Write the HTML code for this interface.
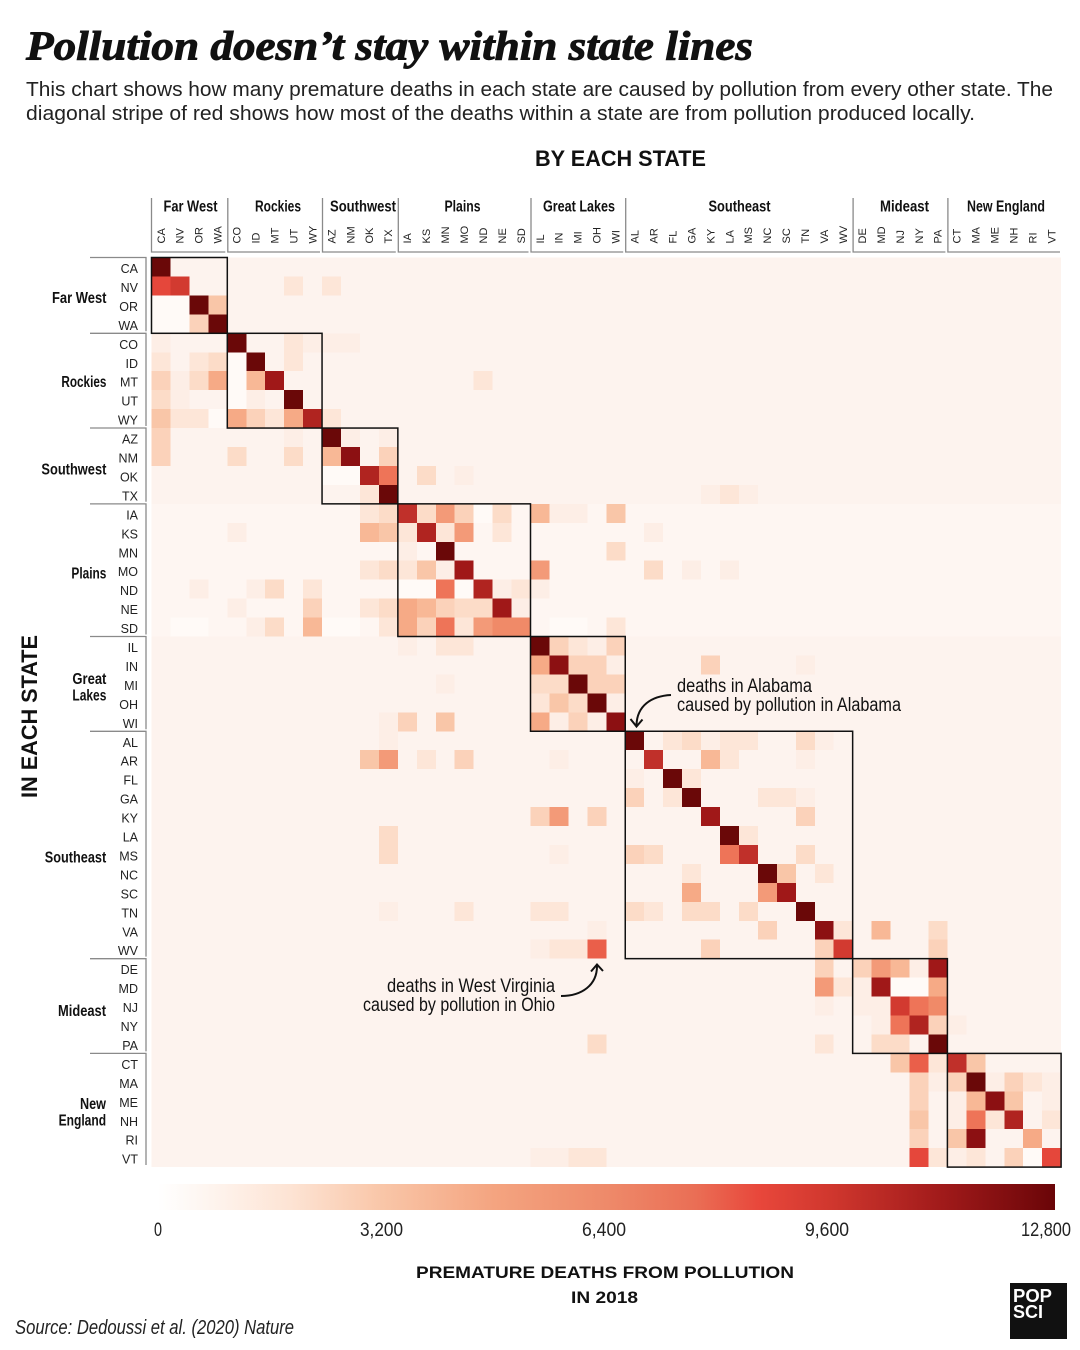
<!DOCTYPE html>
<html><head><meta charset="utf-8">
<style>
html,body{margin:0;padding:0;background:#fff}
svg{display:block}
.a1{fill:#fdeee6}.a2{fill:#fde6d8}.a3{fill:#fcdcc8}.a4{fill:#fbd2ba}.a5{fill:#f9c6a8}.a6{fill:#f8b896}
.a7{fill:#f6aa86}.a8{fill:#f39a78}.a9{fill:#f08a68}.a10{fill:#ee7458}.a11{fill:#ea5f4a}.a12{fill:#e5473b}
.a13{fill:#d23a30}.a14{fill:#c0302a}.a15{fill:#b02420}.a16{fill:#a01818}.a17{fill:#8c1012}.a18{fill:#6a0808}.w{fill:#fffaf7}
.rl{font-family:"Liberation Sans",sans-serif;font-size:12.5px;fill:#222;text-anchor:end}
.cl{font-family:"Liberation Sans",sans-serif;font-size:11px;fill:#222}
.rg{font-family:"Liberation Sans Narrow","Liberation Sans",sans-serif;font-size:16px;font-weight:bold;fill:#111}
.an{font-family:"Liberation Sans Narrow","Liberation Sans",sans-serif;font-size:19px;fill:#111}
.br{stroke:#8a8a8a;stroke-width:1.3;fill:none}
.bx{stroke:#111;stroke-width:1.5;fill:none}
</style></head><body>
<svg width="1080" height="1350" viewBox="0 0 1080 1350" xmlns="http://www.w3.org/2000/svg">
<defs>
<linearGradient id="cb" x1="0" y1="0" x2="1" y2="0">
<stop offset="0" stop-color="#ffffff"/>
<stop offset="0.05" stop-color="#fef6f1"/>
<stop offset="0.15" stop-color="#fde3d3"/>
<stop offset="0.25" stop-color="#f9c6a8"/>
<stop offset="0.375" stop-color="#f4a480"/>
<stop offset="0.5" stop-color="#ee8a6a"/>
<stop offset="0.6" stop-color="#ea6e55"/>
<stop offset="0.67" stop-color="#e8473b"/>
<stop offset="0.75" stop-color="#d0372e"/>
<stop offset="0.875" stop-color="#a01a1a"/>
<stop offset="1" stop-color="#6a0508"/>
</linearGradient>
</defs>

<!-- Title -->
<text x="26" y="59.5" font-family="Liberation Serif, serif" font-style="italic" font-weight="bold" font-size="41" textLength="727" lengthAdjust="spacingAndGlyphs" fill="#111" stroke="#111" stroke-width="0.9">Pollution doesn’t stay within state lines</text>
<text x="26" y="96" font-family="Liberation Sans, sans-serif" font-size="20" fill="#222" textLength="1027" lengthAdjust="spacingAndGlyphs">This chart shows how many premature deaths in each state are caused by pollution from every other state. The</text>
<text x="26" y="120" font-family="Liberation Sans, sans-serif" font-size="20" fill="#222" textLength="949" lengthAdjust="spacingAndGlyphs">diagonal stripe of red shows how most of the deaths within a state are from pollution produced locally.</text>

<text x="535" y="166" font-family="Liberation Sans, sans-serif" font-weight="bold" font-size="22" fill="#111" textLength="171" lengthAdjust="spacingAndGlyphs">BY EACH STATE</text>
<text transform="translate(37,798) rotate(-90)" font-family="Liberation Sans, sans-serif" font-weight="bold" font-size="22" fill="#111" textLength="163" lengthAdjust="spacingAndGlyphs">IN EACH STATE</text>

<!-- Heatmap cells -->
<g transform="translate(151.5 257.5) scale(18.95 18.95)" shape-rendering="crispEdges">
<rect x="0" y="0" width="48" height="48" fill="#fdf3ee"/>
<rect x="0" y="13" width="48" height="7" fill="#fef6f2"/>
<rect x="0" y="0" width="1" height="1" class="a18"/>
<rect x="0" y="1" width="1" height="1" class="a12"/><rect x="1" y="1" width="1" height="1" class="a13"/><rect x="7" y="1" width="1" height="1" class="a2"/><rect x="9" y="1" width="1" height="1" class="a2"/>
<rect x="0" y="2" width="1" height="1" class="w"/><rect x="1" y="2" width="1" height="1" class="w"/><rect x="2" y="2" width="1" height="1" class="a18"/><rect x="3" y="2" width="1" height="1" class="a5"/>
<rect x="0" y="3" width="1" height="1" class="w"/><rect x="1" y="3" width="1" height="1" class="w"/><rect x="2" y="3" width="1" height="1" class="a4"/><rect x="3" y="3" width="1" height="1" class="a18"/>
<rect x="0" y="4" width="1" height="1" class="a1"/><rect x="4" y="4" width="1" height="1" class="a18"/><rect x="7" y="4" width="1" height="1" class="a2"/><rect x="8" y="4" width="1" height="1" class="a1"/><rect x="9" y="4" width="1" height="1" class="a1"/><rect x="10" y="4" width="1" height="1" class="a1"/>
<rect x="0" y="5" width="1" height="1" class="a2"/><rect x="2" y="5" width="1" height="1" class="a2"/><rect x="3" y="5" width="1" height="1" class="a3"/><rect x="4" y="5" width="1" height="1" class="w"/><rect x="5" y="5" width="1" height="1" class="a18"/><rect x="7" y="5" width="1" height="1" class="a2"/>
<rect x="0" y="6" width="1" height="1" class="a4"/><rect x="1" y="6" width="1" height="1" class="a1"/><rect x="2" y="6" width="1" height="1" class="a3"/><rect x="3" y="6" width="1" height="1" class="a7"/><rect x="4" y="6" width="1" height="1" class="w"/><rect x="5" y="6" width="1" height="1" class="a6"/><rect x="6" y="6" width="1" height="1" class="a16"/><rect x="17" y="6" width="1" height="1" class="a2"/>
<rect x="0" y="7" width="1" height="1" class="a3"/><rect x="1" y="7" width="1" height="1" class="a1"/><rect x="4" y="7" width="1" height="1" class="w"/><rect x="5" y="7" width="1" height="1" class="a1"/><rect x="7" y="7" width="1" height="1" class="a18"/>
<rect x="0" y="8" width="1" height="1" class="a5"/><rect x="1" y="8" width="1" height="1" class="a2"/><rect x="2" y="8" width="1" height="1" class="a2"/><rect x="3" y="8" width="1" height="1" class="w"/><rect x="4" y="8" width="1" height="1" class="a7"/><rect x="5" y="8" width="1" height="1" class="a4"/><rect x="6" y="8" width="1" height="1" class="a2"/><rect x="7" y="8" width="1" height="1" class="a7"/><rect x="8" y="8" width="1" height="1" class="a15"/><rect x="9" y="8" width="1" height="1" class="a2"/>
<rect x="0" y="9" width="1" height="1" class="a4"/><rect x="7" y="9" width="1" height="1" class="a1"/><rect x="9" y="9" width="1" height="1" class="a18"/><rect x="10" y="9" width="1" height="1" class="a1"/><rect x="12" y="9" width="1" height="1" class="a1"/>
<rect x="0" y="10" width="1" height="1" class="a4"/><rect x="4" y="10" width="1" height="1" class="a3"/><rect x="7" y="10" width="1" height="1" class="a3"/><rect x="9" y="10" width="1" height="1" class="a6"/><rect x="10" y="10" width="1" height="1" class="a17"/><rect x="12" y="10" width="1" height="1" class="a4"/>
<rect x="9" y="11" width="1" height="1" class="w"/><rect x="10" y="11" width="1" height="1" class="w"/><rect x="11" y="11" width="1" height="1" class="a15"/><rect x="12" y="11" width="1" height="1" class="a10"/><rect x="14" y="11" width="1" height="1" class="a3"/><rect x="16" y="11" width="1" height="1" class="a1"/>
<rect x="11" y="12" width="1" height="1" class="a2"/><rect x="12" y="12" width="1" height="1" class="a18"/><rect x="29" y="12" width="1" height="1" class="a1"/><rect x="30" y="12" width="1" height="1" class="a2"/><rect x="31" y="12" width="1" height="1" class="a1"/>
<rect x="11" y="13" width="1" height="1" class="a2"/><rect x="12" y="13" width="1" height="1" class="a3"/><rect x="13" y="13" width="1" height="1" class="a14"/><rect x="14" y="13" width="1" height="1" class="a3"/><rect x="15" y="13" width="1" height="1" class="a8"/><rect x="16" y="13" width="1" height="1" class="a4"/><rect x="17" y="13" width="1" height="1" class="w"/><rect x="18" y="13" width="1" height="1" class="a3"/><rect x="20" y="13" width="1" height="1" class="a6"/><rect x="21" y="13" width="1" height="1" class="a1"/><rect x="22" y="13" width="1" height="1" class="a1"/><rect x="24" y="13" width="1" height="1" class="a5"/>
<rect x="4" y="14" width="1" height="1" class="a1"/><rect x="11" y="14" width="1" height="1" class="a6"/><rect x="12" y="14" width="1" height="1" class="a5"/><rect x="13" y="14" width="1" height="1" class="a2"/><rect x="14" y="14" width="1" height="1" class="a15"/><rect x="15" y="14" width="1" height="1" class="a2"/><rect x="16" y="14" width="1" height="1" class="a8"/><rect x="18" y="14" width="1" height="1" class="a2"/><rect x="26" y="14" width="1" height="1" class="a1"/>
<rect x="13" y="15" width="1" height="1" class="a1"/><rect x="15" y="15" width="1" height="1" class="a18"/><rect x="24" y="15" width="1" height="1" class="a3"/>
<rect x="11" y="16" width="1" height="1" class="a2"/><rect x="12" y="16" width="1" height="1" class="a3"/><rect x="13" y="16" width="1" height="1" class="a2"/><rect x="14" y="16" width="1" height="1" class="a5"/><rect x="15" y="16" width="1" height="1" class="a1"/><rect x="16" y="16" width="1" height="1" class="a16"/><rect x="20" y="16" width="1" height="1" class="a8"/><rect x="26" y="16" width="1" height="1" class="a3"/><rect x="28" y="16" width="1" height="1" class="a1"/><rect x="30" y="16" width="1" height="1" class="a1"/>
<rect x="2" y="17" width="1" height="1" class="a1"/><rect x="5" y="17" width="1" height="1" class="a1"/><rect x="6" y="17" width="1" height="1" class="a3"/><rect x="8" y="17" width="1" height="1" class="a2"/><rect x="13" y="17" width="1" height="1" class="w"/><rect x="14" y="17" width="1" height="1" class="w"/><rect x="15" y="17" width="1" height="1" class="a10"/><rect x="16" y="17" width="1" height="1" class="w"/><rect x="17" y="17" width="1" height="1" class="a15"/><rect x="18" y="17" width="1" height="1" class="a1"/><rect x="19" y="17" width="1" height="1" class="a2"/><rect x="20" y="17" width="1" height="1" class="a1"/>
<rect x="4" y="18" width="1" height="1" class="a1"/><rect x="8" y="18" width="1" height="1" class="a4"/><rect x="11" y="18" width="1" height="1" class="a2"/><rect x="12" y="18" width="1" height="1" class="a3"/><rect x="13" y="18" width="1" height="1" class="a7"/><rect x="14" y="18" width="1" height="1" class="a6"/><rect x="15" y="18" width="1" height="1" class="a4"/><rect x="16" y="18" width="1" height="1" class="a3"/><rect x="17" y="18" width="1" height="1" class="a3"/><rect x="18" y="18" width="1" height="1" class="a16"/><rect x="19" y="18" width="1" height="1" class="a1"/>
<rect x="1" y="19" width="1" height="1" class="w"/><rect x="2" y="19" width="1" height="1" class="w"/><rect x="5" y="19" width="1" height="1" class="a1"/><rect x="6" y="19" width="1" height="1" class="a3"/><rect x="8" y="19" width="1" height="1" class="a6"/><rect x="9" y="19" width="1" height="1" class="w"/><rect x="10" y="19" width="1" height="1" class="w"/><rect x="12" y="19" width="1" height="1" class="a2"/><rect x="13" y="19" width="1" height="1" class="a7"/><rect x="14" y="19" width="1" height="1" class="a4"/><rect x="15" y="19" width="1" height="1" class="a10"/><rect x="16" y="19" width="1" height="1" class="a2"/><rect x="17" y="19" width="1" height="1" class="a8"/><rect x="18" y="19" width="1" height="1" class="a9"/><rect x="19" y="19" width="1" height="1" class="a9"/><rect x="21" y="19" width="1" height="1" class="w"/><rect x="22" y="19" width="1" height="1" class="w"/><rect x="24" y="19" width="1" height="1" class="a2"/>
<rect x="13" y="20" width="1" height="1" class="a1"/><rect x="15" y="20" width="1" height="1" class="a2"/><rect x="16" y="20" width="1" height="1" class="a2"/><rect x="20" y="20" width="1" height="1" class="a18"/><rect x="21" y="20" width="1" height="1" class="a4"/><rect x="22" y="20" width="1" height="1" class="a2"/><rect x="23" y="20" width="1" height="1" class="a1"/><rect x="24" y="20" width="1" height="1" class="a4"/>
<rect x="20" y="21" width="1" height="1" class="a7"/><rect x="21" y="21" width="1" height="1" class="a17"/><rect x="22" y="21" width="1" height="1" class="a4"/><rect x="23" y="21" width="1" height="1" class="a4"/><rect x="24" y="21" width="1" height="1" class="a1"/><rect x="29" y="21" width="1" height="1" class="a4"/><rect x="34" y="21" width="1" height="1" class="a1"/>
<rect x="15" y="22" width="1" height="1" class="a1"/><rect x="20" y="22" width="1" height="1" class="a3"/><rect x="21" y="22" width="1" height="1" class="a3"/><rect x="22" y="22" width="1" height="1" class="a18"/><rect x="23" y="22" width="1" height="1" class="a4"/><rect x="24" y="22" width="1" height="1" class="a4"/>
<rect x="20" y="23" width="1" height="1" class="a2"/><rect x="21" y="23" width="1" height="1" class="a5"/><rect x="22" y="23" width="1" height="1" class="a3"/><rect x="23" y="23" width="1" height="1" class="a18"/><rect x="24" y="23" width="1" height="1" class="a1"/>
<rect x="12" y="24" width="1" height="1" class="a1"/><rect x="13" y="24" width="1" height="1" class="a4"/><rect x="15" y="24" width="1" height="1" class="a5"/><rect x="20" y="24" width="1" height="1" class="a7"/><rect x="21" y="24" width="1" height="1" class="a1"/><rect x="22" y="24" width="1" height="1" class="a4"/><rect x="23" y="24" width="1" height="1" class="a1"/><rect x="24" y="24" width="1" height="1" class="a17"/>
<rect x="12" y="25" width="1" height="1" class="a1"/><rect x="25" y="25" width="1" height="1" class="a18"/><rect x="27" y="25" width="1" height="1" class="a2"/><rect x="28" y="25" width="1" height="1" class="a3"/><rect x="29" y="25" width="1" height="1" class="a1"/><rect x="30" y="25" width="1" height="1" class="a2"/><rect x="31" y="25" width="1" height="1" class="a2"/><rect x="34" y="25" width="1" height="1" class="a3"/><rect x="35" y="25" width="1" height="1" class="a1"/>
<rect x="11" y="26" width="1" height="1" class="a5"/><rect x="12" y="26" width="1" height="1" class="a8"/><rect x="14" y="26" width="1" height="1" class="a2"/><rect x="16" y="26" width="1" height="1" class="a4"/><rect x="21" y="26" width="1" height="1" class="a1"/><rect x="26" y="26" width="1" height="1" class="a14"/><rect x="29" y="26" width="1" height="1" class="a6"/><rect x="30" y="26" width="1" height="1" class="a2"/><rect x="34" y="26" width="1" height="1" class="a1"/>
<rect x="25" y="27" width="1" height="1" class="a1"/><rect x="27" y="27" width="1" height="1" class="a18"/><rect x="28" y="27" width="1" height="1" class="a2"/>
<rect x="25" y="28" width="1" height="1" class="a4"/><rect x="27" y="28" width="1" height="1" class="a2"/><rect x="28" y="28" width="1" height="1" class="a18"/><rect x="32" y="28" width="1" height="1" class="a2"/><rect x="33" y="28" width="1" height="1" class="a2"/><rect x="34" y="28" width="1" height="1" class="a1"/>
<rect x="20" y="29" width="1" height="1" class="a4"/><rect x="21" y="29" width="1" height="1" class="a8"/><rect x="23" y="29" width="1" height="1" class="a4"/><rect x="29" y="29" width="1" height="1" class="a16"/><rect x="34" y="29" width="1" height="1" class="a4"/>
<rect x="12" y="30" width="1" height="1" class="a3"/><rect x="30" y="30" width="1" height="1" class="a18"/><rect x="31" y="30" width="1" height="1" class="a2"/>
<rect x="12" y="31" width="1" height="1" class="a3"/><rect x="21" y="31" width="1" height="1" class="a1"/><rect x="25" y="31" width="1" height="1" class="a4"/><rect x="26" y="31" width="1" height="1" class="a3"/><rect x="30" y="31" width="1" height="1" class="a10"/><rect x="31" y="31" width="1" height="1" class="a14"/><rect x="34" y="31" width="1" height="1" class="a3"/>
<rect x="28" y="32" width="1" height="1" class="a2"/><rect x="32" y="32" width="1" height="1" class="a18"/><rect x="33" y="32" width="1" height="1" class="a5"/><rect x="35" y="32" width="1" height="1" class="a2"/>
<rect x="28" y="33" width="1" height="1" class="a7"/><rect x="32" y="33" width="1" height="1" class="a8"/><rect x="33" y="33" width="1" height="1" class="a16"/>
<rect x="12" y="34" width="1" height="1" class="a1"/><rect x="16" y="34" width="1" height="1" class="a2"/><rect x="20" y="34" width="1" height="1" class="a2"/><rect x="21" y="34" width="1" height="1" class="a2"/><rect x="25" y="34" width="1" height="1" class="a3"/><rect x="26" y="34" width="1" height="1" class="a2"/><rect x="28" y="34" width="1" height="1" class="a3"/><rect x="29" y="34" width="1" height="1" class="a3"/><rect x="31" y="34" width="1" height="1" class="a3"/><rect x="34" y="34" width="1" height="1" class="a18"/>
<rect x="23" y="35" width="1" height="1" class="a1"/><rect x="32" y="35" width="1" height="1" class="a4"/><rect x="35" y="35" width="1" height="1" class="a17"/><rect x="36" y="35" width="1" height="1" class="a2"/><rect x="38" y="35" width="1" height="1" class="a6"/><rect x="41" y="35" width="1" height="1" class="a3"/>
<rect x="20" y="36" width="1" height="1" class="a1"/><rect x="21" y="36" width="1" height="1" class="a2"/><rect x="22" y="36" width="1" height="1" class="a2"/><rect x="23" y="36" width="1" height="1" class="a11"/><rect x="29" y="36" width="1" height="1" class="a4"/><rect x="35" y="36" width="1" height="1" class="a4"/><rect x="36" y="36" width="1" height="1" class="a13"/><rect x="41" y="36" width="1" height="1" class="a4"/>
<rect x="35" y="37" width="1" height="1" class="a4"/><rect x="37" y="37" width="1" height="1" class="a4"/><rect x="38" y="37" width="1" height="1" class="a8"/><rect x="39" y="37" width="1" height="1" class="a6"/><rect x="40" y="37" width="1" height="1" class="a1"/><rect x="41" y="37" width="1" height="1" class="a16"/>
<rect x="35" y="38" width="1" height="1" class="a8"/><rect x="36" y="38" width="1" height="1" class="a2"/><rect x="37" y="38" width="1" height="1" class="a1"/><rect x="38" y="38" width="1" height="1" class="a16"/><rect x="39" y="38" width="1" height="1" class="w"/><rect x="40" y="38" width="1" height="1" class="w"/><rect x="41" y="38" width="1" height="1" class="a7"/>
<rect x="35" y="39" width="1" height="1" class="a1"/><rect x="37" y="39" width="1" height="1" class="a1"/><rect x="38" y="39" width="1" height="1" class="a1"/><rect x="39" y="39" width="1" height="1" class="a13"/><rect x="40" y="39" width="1" height="1" class="a10"/><rect x="41" y="39" width="1" height="1" class="a9"/>
<rect x="38" y="40" width="1" height="1" class="a1"/><rect x="39" y="40" width="1" height="1" class="a10"/><rect x="40" y="40" width="1" height="1" class="a15"/><rect x="41" y="40" width="1" height="1" class="a4"/><rect x="42" y="40" width="1" height="1" class="a1"/>
<rect x="23" y="41" width="1" height="1" class="a3"/><rect x="35" y="41" width="1" height="1" class="a2"/><rect x="38" y="41" width="1" height="1" class="a3"/><rect x="39" y="41" width="1" height="1" class="a3"/><rect x="41" y="41" width="1" height="1" class="a18"/>
<rect x="39" y="42" width="1" height="1" class="a5"/><rect x="40" y="42" width="1" height="1" class="a11"/><rect x="41" y="42" width="1" height="1" class="a2"/><rect x="42" y="42" width="1" height="1" class="a14"/><rect x="43" y="42" width="1" height="1" class="a5"/>
<rect x="40" y="43" width="1" height="1" class="a4"/><rect x="41" y="43" width="1" height="1" class="a1"/><rect x="42" y="43" width="1" height="1" class="a4"/><rect x="43" y="43" width="1" height="1" class="a18"/><rect x="44" y="43" width="1" height="1" class="a1"/><rect x="45" y="43" width="1" height="1" class="a4"/><rect x="46" y="43" width="1" height="1" class="a2"/><rect x="47" y="43" width="1" height="1" class="a1"/>
<rect x="40" y="44" width="1" height="1" class="a4"/><rect x="42" y="44" width="1" height="1" class="a1"/><rect x="43" y="44" width="1" height="1" class="a6"/><rect x="44" y="44" width="1" height="1" class="a17"/><rect x="45" y="44" width="1" height="1" class="a5"/><rect x="47" y="44" width="1" height="1" class="a1"/>
<rect x="40" y="45" width="1" height="1" class="a5"/><rect x="42" y="45" width="1" height="1" class="a1"/><rect x="43" y="45" width="1" height="1" class="a10"/><rect x="44" y="45" width="1" height="1" class="a2"/><rect x="45" y="45" width="1" height="1" class="a15"/><rect x="47" y="45" width="1" height="1" class="a2"/>
<rect x="40" y="46" width="1" height="1" class="a4"/><rect x="42" y="46" width="1" height="1" class="a5"/><rect x="43" y="46" width="1" height="1" class="a17"/><rect x="46" y="46" width="1" height="1" class="a7"/>
<rect x="20" y="47" width="1" height="1" class="a1"/><rect x="21" y="47" width="1" height="1" class="a1"/><rect x="22" y="47" width="1" height="1" class="a2"/><rect x="23" y="47" width="1" height="1" class="a2"/><rect x="40" y="47" width="1" height="1" class="a12"/><rect x="41" y="47" width="1" height="1" class="a2"/><rect x="42" y="47" width="1" height="1" class="a1"/><rect x="43" y="47" width="1" height="1" class="a2"/><rect x="45" y="47" width="1" height="1" class="a4"/><rect x="46" y="47" width="1" height="1" class="w"/><rect x="47" y="47" width="1" height="1" class="a12"/>
</g>

<!-- Region boxes -->
<rect class="bx" x="151.5" y="257.5" width="75.8" height="75.8"/>
<rect class="bx" x="227.3" y="333.3" width="94.75" height="94.75"/>
<rect class="bx" x="322.05" y="428.05" width="75.8" height="75.8"/>
<rect class="bx" x="397.85" y="503.85" width="132.65" height="132.65"/>
<rect class="bx" x="530.5" y="636.5" width="94.75" height="94.75"/>
<rect class="bx" x="625.25" y="731.25" width="227.4" height="227.4"/>
<rect class="bx" x="852.65" y="958.65" width="94.75" height="94.75"/>
<rect class="bx" x="947.4" y="1053.4" width="113.7" height="113.7"/>

<!-- Column brackets -->
<path class="br" d="M151.5 198V252H225.3 M227.8 198V252H320 M322.5 198V252H395.8 M398.3 198V252H528.5 M531 198V252H623.2 M625.7 198V252H850.6 M853.1 198V252H945.4 M947.9 198V252H1060"/>
<!-- Row brackets -->
<path class="br" d="M90 257.5H146V331.3 M90 333.3H146V426 M90 428H146V501.8 M90 503.9H146V634.5 M90 636.5H146V729.2 M90 731.3H146V956.6 M90 958.7H146V1051.4 M90 1053.4H146V1165"/>

<!-- Column region labels -->
<text class="rg" x="163.5" y="211.5" textLength="54" lengthAdjust="spacingAndGlyphs">Far West</text>
<text class="rg" x="255" y="211.5" textLength="46" lengthAdjust="spacingAndGlyphs">Rockies</text>
<text class="rg" x="330" y="211.5" textLength="66" lengthAdjust="spacingAndGlyphs">Southwest</text>
<text class="rg" x="444.5" y="211.5" textLength="36" lengthAdjust="spacingAndGlyphs">Plains</text>
<text class="rg" x="543" y="211.5" textLength="72" lengthAdjust="spacingAndGlyphs">Great Lakes</text>
<text class="rg" x="708.5" y="211.5" textLength="62" lengthAdjust="spacingAndGlyphs">Southeast</text>
<text class="rg" x="880" y="211.5" textLength="49" lengthAdjust="spacingAndGlyphs">Mideast</text>
<text class="rg" x="967" y="211.5" textLength="78" lengthAdjust="spacingAndGlyphs">New England</text>

<!-- Row region labels -->
<text class="rg" x="52" y="303" textLength="54.5" lengthAdjust="spacingAndGlyphs">Far West</text>
<text class="rg" x="61.4" y="387" textLength="45" lengthAdjust="spacingAndGlyphs">Rockies</text>
<text class="rg" x="41.4" y="474.5" textLength="65" lengthAdjust="spacingAndGlyphs">Southwest</text>
<text class="rg" x="71.4" y="578.5" textLength="35" lengthAdjust="spacingAndGlyphs">Plains</text>
<text class="rg" x="72.4" y="684" textLength="34" lengthAdjust="spacingAndGlyphs">Great</text>
<text class="rg" x="72.4" y="700.5" textLength="34" lengthAdjust="spacingAndGlyphs">Lakes</text>
<text class="rg" x="44.8" y="862.5" textLength="61.4" lengthAdjust="spacingAndGlyphs">Southeast</text>
<text class="rg" x="58" y="1016" textLength="48" lengthAdjust="spacingAndGlyphs">Mideast</text>
<text class="rg" x="80" y="1109" textLength="26" lengthAdjust="spacingAndGlyphs">New</text>
<text class="rg" x="58.6" y="1125.5" textLength="47.5" lengthAdjust="spacingAndGlyphs">England</text>

<!-- Column state labels -->
<g class="cl">
<text transform="translate(164.8,243.5) rotate(-90)">CA</text>
<text transform="translate(183.7,243.5) rotate(-90)">NV</text>
<text transform="translate(202.7,243.5) rotate(-90)">OR</text>
<text transform="translate(221.6,243.5) rotate(-90)">WA</text>
<text transform="translate(240.6,243.5) rotate(-90)">CO</text>
<text transform="translate(259.5,243.5) rotate(-90)">ID</text>
<text transform="translate(278.5,243.5) rotate(-90)">MT</text>
<text transform="translate(297.4,243.5) rotate(-90)">UT</text>
<text transform="translate(316.4,243.5) rotate(-90)">WY</text>
<text transform="translate(335.3,243.5) rotate(-90)">AZ</text>
<text transform="translate(354.3,243.5) rotate(-90)">NM</text>
<text transform="translate(373.2,243.5) rotate(-90)">OK</text>
<text transform="translate(392.2,243.5) rotate(-90)">TX</text>
<text transform="translate(411.1,243.5) rotate(-90)">IA</text>
<text transform="translate(430.1,243.5) rotate(-90)">KS</text>
<text transform="translate(449,243.5) rotate(-90)">MN</text>
<text transform="translate(468,243.5) rotate(-90)">MO</text>
<text transform="translate(486.9,243.5) rotate(-90)">ND</text>
<text transform="translate(505.9,243.5) rotate(-90)">NE</text>
<text transform="translate(524.8,243.5) rotate(-90)">SD</text>
<text transform="translate(543.8,243.5) rotate(-90)">IL</text>
<text transform="translate(562.7,243.5) rotate(-90)">IN</text>
<text transform="translate(581.7,243.5) rotate(-90)">MI</text>
<text transform="translate(600.6,243.5) rotate(-90)">OH</text>
<text transform="translate(619.6,243.5) rotate(-90)">WI</text>
<text transform="translate(638.5,243.5) rotate(-90)">AL</text>
<text transform="translate(657.5,243.5) rotate(-90)">AR</text>
<text transform="translate(676.4,243.5) rotate(-90)">FL</text>
<text transform="translate(695.4,243.5) rotate(-90)">GA</text>
<text transform="translate(714.3,243.5) rotate(-90)">KY</text>
<text transform="translate(733.3,243.5) rotate(-90)">LA</text>
<text transform="translate(752.2,243.5) rotate(-90)">MS</text>
<text transform="translate(771.2,243.5) rotate(-90)">NC</text>
<text transform="translate(790.1,243.5) rotate(-90)">SC</text>
<text transform="translate(809.1,243.5) rotate(-90)">TN</text>
<text transform="translate(828,243.5) rotate(-90)">VA</text>
<text transform="translate(847,243.5) rotate(-90)">WV</text>
<text transform="translate(865.9,243.5) rotate(-90)">DE</text>
<text transform="translate(884.9,243.5) rotate(-90)">MD</text>
<text transform="translate(903.8,243.5) rotate(-90)">NJ</text>
<text transform="translate(922.8,243.5) rotate(-90)">NY</text>
<text transform="translate(941.7,243.5) rotate(-90)">PA</text>
<text transform="translate(960.7,243.5) rotate(-90)">CT</text>
<text transform="translate(979.6,243.5) rotate(-90)">MA</text>
<text transform="translate(998.6,243.5) rotate(-90)">ME</text>
<text transform="translate(1017.5,243.5) rotate(-90)">NH</text>
<text transform="translate(1036.5,243.5) rotate(-90)">RI</text>
<text transform="translate(1055.4,243.5) rotate(-90)">VT</text>
</g>

<!-- Row state labels -->
<g class="rl">
<text x="138" y="273">CA</text>
<text x="138" y="291.95">NV</text>
<text x="138" y="310.9">OR</text>
<text x="138" y="329.85">WA</text>
<text x="138" y="348.8">CO</text>
<text x="138" y="367.75">ID</text>
<text x="138" y="386.7">MT</text>
<text x="138" y="405.65">UT</text>
<text x="138" y="424.6">WY</text>
<text x="138" y="443.55">AZ</text>
<text x="138" y="462.5">NM</text>
<text x="138" y="481.45">OK</text>
<text x="138" y="500.4">TX</text>
<text x="138" y="519.35">IA</text>
<text x="138" y="538.3">KS</text>
<text x="138" y="557.25">MN</text>
<text x="138" y="576.2">MO</text>
<text x="138" y="595.15">ND</text>
<text x="138" y="614.1">NE</text>
<text x="138" y="633.05">SD</text>
<text x="138" y="652">IL</text>
<text x="138" y="670.95">IN</text>
<text x="138" y="689.9">MI</text>
<text x="138" y="708.85">OH</text>
<text x="138" y="727.8">WI</text>
<text x="138" y="746.75">AL</text>
<text x="138" y="765.7">AR</text>
<text x="138" y="784.65">FL</text>
<text x="138" y="803.6">GA</text>
<text x="138" y="822.55">KY</text>
<text x="138" y="841.5">LA</text>
<text x="138" y="860.45">MS</text>
<text x="138" y="879.4">NC</text>
<text x="138" y="898.35">SC</text>
<text x="138" y="917.3">TN</text>
<text x="138" y="936.25">VA</text>
<text x="138" y="955.2">WV</text>
<text x="138" y="974.15">DE</text>
<text x="138" y="993.1">MD</text>
<text x="138" y="1012.05">NJ</text>
<text x="138" y="1031">NY</text>
<text x="138" y="1049.95">PA</text>
<text x="138" y="1068.9">CT</text>
<text x="138" y="1087.85">MA</text>
<text x="138" y="1106.8">ME</text>
<text x="138" y="1125.75">NH</text>
<text x="138" y="1144.7">RI</text>
<text x="138" y="1163.65">VT</text>
</g>

<!-- Annotations -->
<text class="an" x="677" y="692" textLength="135" lengthAdjust="spacingAndGlyphs">deaths in Alabama</text>
<text class="an" x="677" y="711" textLength="224" lengthAdjust="spacingAndGlyphs">caused by pollution in Alabama</text>
<path d="M671 695 C651 696 637 706 636.5 725" stroke="#111" stroke-width="2" fill="none"/>
<path d="M630.5 719 L636.5 726.5 L642.5 719.5" stroke="#111" stroke-width="2" fill="none"/>

<text class="an" x="387" y="992" textLength="168" lengthAdjust="spacingAndGlyphs">deaths in West Virginia</text>
<text class="an" x="363" y="1011" textLength="192" lengthAdjust="spacingAndGlyphs">caused by pollution in Ohio</text>
<path d="M561 996 C582 996 597 985 597 966" stroke="#111" stroke-width="2" fill="none"/>
<path d="M591 971.5 L597 964.5 L603 971" stroke="#111" stroke-width="2" fill="none"/>

<!-- Colorbar -->
<rect x="158" y="1184" width="897" height="26" fill="url(#cb)"/>
<g font-family="Liberation Sans Narrow, Liberation Sans, sans-serif" font-size="19" fill="#222">
<text x="154" y="1236" textLength="8" lengthAdjust="spacingAndGlyphs">0</text>
<text x="360" y="1236" textLength="43" lengthAdjust="spacingAndGlyphs">3,200</text>
<text x="582" y="1236" textLength="44" lengthAdjust="spacingAndGlyphs">6,400</text>
<text x="805" y="1236" textLength="44" lengthAdjust="spacingAndGlyphs">9,600</text>
<text x="1021" y="1236" textLength="50" lengthAdjust="spacingAndGlyphs">12,800</text>
</g>
<text x="416" y="1278" font-family="Liberation Sans Narrow, Liberation Sans, sans-serif" font-weight="bold" font-size="17" fill="#111" textLength="378" lengthAdjust="spacingAndGlyphs">PREMATURE DEATHS FROM POLLUTION</text>
<text x="571" y="1303" font-family="Liberation Sans Narrow, Liberation Sans, sans-serif" font-weight="bold" font-size="17" fill="#111" textLength="67" lengthAdjust="spacingAndGlyphs">IN 2018</text>

<text x="15" y="1334" font-family="Liberation Sans Narrow, Liberation Sans, sans-serif" font-style="italic" font-size="20" fill="#222" textLength="279" lengthAdjust="spacingAndGlyphs">Source: Dedoussi et al. (2020) Nature</text>

<!-- Logo -->
<rect x="1010" y="1283" width="57" height="56" fill="#111"/>
<text x="1013" y="1302" font-family="Liberation Sans Narrow, Liberation Sans, sans-serif" font-weight="bold" font-size="18" fill="#fff" textLength="39" lengthAdjust="spacingAndGlyphs">POP</text>
<text x="1013" y="1318" font-family="Liberation Sans Narrow, Liberation Sans, sans-serif" font-weight="bold" font-size="18" fill="#fff" textLength="30" lengthAdjust="spacingAndGlyphs">SCI</text>
</svg>
</body></html>
